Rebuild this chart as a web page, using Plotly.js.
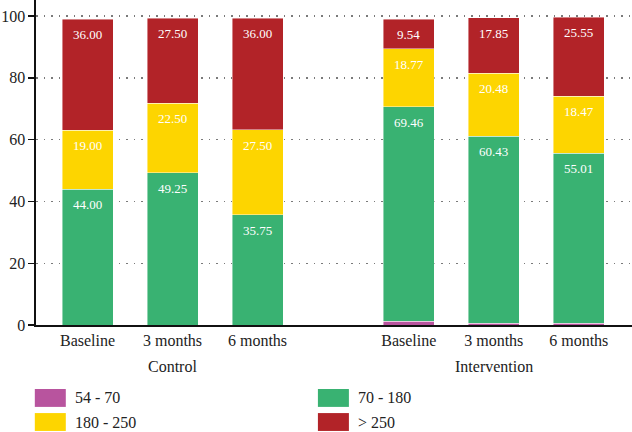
<!DOCTYPE html>
<html>
<head>
<meta charset="utf-8">
<script src="https://cdn.plot.ly/plotly-3.0.1.min.js"></script>
<style>
  html, body { margin: 0; padding: 0; background: #fff; }
  #chart { width: 632px; height: 432px; }
</style>
</head>
<body>
<div id="chart"></div>
<script>
// Glucose range distribution (%) by study arm and time point
const groups = ["Control", "Intervention"];
const timepoints = ["Baseline", "3 months", "6 months"];

const seriesNames = ["54 - 70", "70 - 180", "180 - 250", "> 250"];
const seriesColors = ["#B8549E", "#39B272", "#FDD500", "#B22328"];

// values per series: Control (Baseline, 3 months, 6 months), then Intervention
const range54to70   = [0, 0, 0, 1.15, 0.62, 0.62];
const range70to180  = [44.00, 49.25, 35.75, 69.46, 60.43, 55.01];
const range180to250 = [19.00, 22.50, 27.50, 18.77, 20.48, 18.47];
const rangeAbove250 = [36.00, 27.50, 36.00, 9.54, 17.85, 25.55];

const seriesValues = [range54to70, range70to180, range180to250, rangeAbove250];
const showLabels = [false, true, true, true];

const yTicks = [0, 20, 40, 60, 80, 100];

// bar slots: three per arm, with a wider gap between the arms
const armGap = 0.78;
const xPos = [];
const xText = [];
groups.forEach((g, gi) => {
  timepoints.forEach((t, ti) => {
    xPos.push(gi * (timepoints.length + armGap) + ti);
    xText.push(t);
  });
});
const groupCenters = groups.map((g, gi) => gi * (timepoints.length + armGap) + (timepoints.length - 1) / 2);

const serif = "Liberation Serif";

const traces = seriesNames.map((name, si) => ({
  type: "bar",
  name: name,
  x: xPos,
  y: seriesValues[si],
  width: 0.6,
  marker: { color: seriesColors[si], line: { color: "rgba(255,255,255,0.55)", width: 0.8 } },
  hoverinfo: "skip",
  showlegend: false
}));

const annotations = [];

// value labels near the top of each segment
const runningTop = xPos.map(() => 0);
seriesValues.forEach((vals, si) => {
  vals.forEach((v, i) => {
    runningTop[i] += v;
    if (!showLabels[si]) return;
    annotations.push({
      text: v.toFixed(2), x: xPos[i], y: runningTop[i], xref: "x", yref: "y",
      xanchor: "center", yanchor: "top", yshift: -6, showarrow: false,
      font: { family: serif, size: 13, color: "#ffffff" }
    });
  });
});

// group labels beneath the time point labels
groups.forEach((g, gi) => annotations.push({
  text: g, x: groupCenters[gi], xref: "x", y: -0.129, yref: "paper",
  xanchor: "center", yanchor: "middle", showarrow: false,
  font: { family: serif, size: 16, color: "#222" }
}));

// legend: two columns of wide swatches
const shapes = [];
const legendCols = [[0, 2], [1, 3]];
const colX = [-0.002, 0.473];
const rowY = [-0.197, -0.271];
const swW = 0.052, swH = 0.055;
legendCols.forEach((col, ci) => {
  col.forEach((si, ri) => {
    shapes.push({
      type: "rect", xref: "paper", yref: "paper",
      x0: colX[ci], x1: colX[ci] + swW, y0: rowY[ri] - swH, y1: rowY[ri],
      fillcolor: seriesColors[si], line: { width: 0 }
    });
    annotations.push({
      text: seriesNames[si], xref: "paper", yref: "paper",
      x: colX[ci] + swW + 0.012, y: rowY[ri] - swH / 2,
      xanchor: "left", yanchor: "middle", showarrow: false,
      font: { family: serif, size: 16, color: "#222" }
    });
  });
});

const layout = {
  width: 632, height: 432,
  font: { family: serif, size: 16, color: "#222" },
  margin: { l: 36, r: 0, t: 0, b: 107 },
  paper_bgcolor: "#ffffff", plot_bgcolor: "#ffffff",
  barmode: "stack",
  bargap: 0,
  showlegend: false,
  xaxis: {
    range: [-0.606, 6.406],
    tickvals: xPos, ticktext: xText,
    showgrid: false, zeroline: false,
    showline: true, linecolor: "#111", linewidth: 1.6,
    ticks: "", tickfont: { family: serif, size: 16, color: "#222" },
    fixedrange: true
  },
  yaxis: {
    range: [0, 105.2],
    tickvals: yTicks,
    showgrid: true, gridcolor: "#7a7a7a", gridwidth: 1.4, griddash: "1.5px,6px",
    zeroline: false,
    showline: true, linecolor: "#111", linewidth: 1.6,
    ticks: "outside", ticklen: 6, tickcolor: "#111", tickwidth: 1.4,
    tickfont: { family: serif, size: 16, color: "#222" },
    fixedrange: true
  },
  annotations: annotations,
  shapes: shapes
};

Plotly.newPlot("chart", traces, layout, { staticPlot: true, displayModeBar: false });
</script>
</body>
</html>
